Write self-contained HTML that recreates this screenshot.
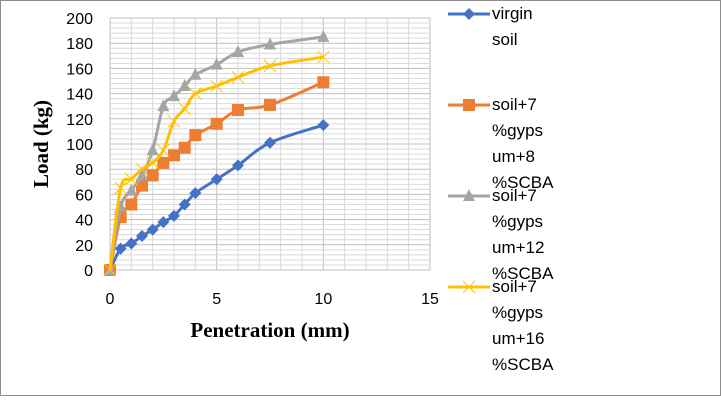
<!DOCTYPE html>
<html><head><meta charset="utf-8"><style>
body{margin:0;background:#fff;}
svg{display:block;font-family:"Liberation Sans",sans-serif;}
</style></head><body>
<svg id="c" width="721" height="404">
<rect x="0.5" y="0.5" width="720" height="395" fill="#fff" stroke="#8c8c8c"/>
<g id="grid"></g><g id="axes"></g><g id="series"></g><g id="legend"></g>
<text x="270" y="337" text-anchor="middle" font-family="Liberation Serif,serif" font-weight="bold" font-size="21">Penetration (mm)</text>
<text transform="translate(48,144) rotate(-90)" text-anchor="middle" font-family="Liberation Serif,serif" font-weight="bold" font-size="21">Load (kg)</text>
</svg>
<script>
const xs=[0,0.5,1,1.5,2,2.5,3,3.5,4,5,6,7.5,10];
const virgin=[0,17,21,27,32,38,43,52,61,72,83,101,115];
const gyp8=[0,42,52,67,75,85,91,97,107,116,127,131,149];
const gyp12=[0,50,63,75,95,130,138,146,155,163,173,179,185];
const gyp16=[0,65,72,80,85,95,118,128,140,146,153,162,169];
const xTicks=[0,5,10,15];
const yTicks=[0,20,40,60,80,100,120,140,160,180,200];
const legendLabels=[["virgin","soil"],["soil+7","%gyps","um+8","%SCBA"],["soil+7","%gyps","um+12","%SCBA"],["soil+7","%gyps","um+16","%SCBA"]];
const NS="http://www.w3.org/2000/svg";
const X0=110,X1=430,Y0=270,Y1=18;
const sx=v=>X0+(v/15)*(X1-X0), sy=v=>Y0-(v/200)*(Y0-Y1);
function mk(t,a,p){const e=document.createElementNS(NS,t);for(const k in a)e.setAttribute(k,a[k]);p.appendChild(e);return e;}
const grid=document.getElementById('grid'),axes=document.getElementById('axes'),ser=document.getElementById('series'),leg=document.getElementById('legend');
for(let v=0;v<=15;v++){const l=mk('line',{x1:sx(v),x2:sx(v),y1:Y1,y2:Y0,stroke:v%5==0?'#bfbfbf':'#d9d9d9','stroke-width':1},grid);

}
for(let v=0;v<=200;v+=4){const l=mk('line',{x1:X0,x2:X1,y1:sy(v),y2:sy(v),stroke:v%20==0?'#bfbfbf':'#d9d9d9','stroke-width':1},grid);

}
xTicks.forEach(v=>{const t=mk('text',{x:sx(v),y:304,'text-anchor':'middle','font-size':16,fill:'#000'},axes);t.textContent=v;

});
yTicks.forEach(v=>{const t=mk('text',{x:93,y:sy(v)+6,'text-anchor':'end','font-size':16,fill:'#000'},axes);t.textContent=v;

});
function marker(type,x,y,col,p){let e;
 if(type=='diamond')e=mk('polygon',{points:`${x},${y-6} ${x+6},${y} ${x},${y+6} ${x-6},${y}`,fill:col},p);
 else if(type=='square')e=mk('rect',{x:x-6,y:y-6,width:12,height:12,fill:col},p);
 else if(type=='tri')e=mk('polygon',{points:`${x},${y-7} ${x+6},${y+5} ${x-6},${y+5}`,fill:col},p);
 else e=mk('path',{d:`M${x-6},${y-6}L${x+6},${y+6}M${x+6},${y-6}L${x-6},${y+6}`,stroke:col,'stroke-width':1,fill:'none'},p);
 return e;}
function smooth(pts){let d=`M${pts[0][0]},${pts[0][1]}`;
 for(let i=0;i<pts.length-1;i++){const p0=pts[i-1]||pts[i],p1=pts[i],p2=pts[i+1],p3=pts[i+2]||p2;
  d+=`C${p1[0]+(p2[0]-p0[0])/6},${p1[1]+(p2[1]-p0[1])/6} ${p2[0]-(p3[0]-p1[0])/6},${p2[1]-(p3[1]-p1[1])/6} ${p2[0]},${p2[1]}`;}
 return d;}
const defs=[[virgin,'#4472c4','diamond','series-virgin-soil'],[gyp8,'#ed7d31','square','series-gypsum-8-scba'],[gyp12,'#a5a5a5','tri','series-gypsum-12-scba'],[gyp16,'#ffc000','x','series-gypsum-16-scba']];
defs.forEach(([arr,col,m,name],si)=>{const g=mk('g',{},ser);
 
 
 const pts=xs.map((x,i)=>[sx(x),sy(arr[i])]);
 const l=mk('path',{d:smooth(pts),stroke:col,'stroke-width':3,fill:'none'},g);
 
 
 pts.forEach(p=>{const e=marker(m,p[0],p[1],col,g);
 
 });});
const ly=[10,101,192,283];
legendLabels.forEach((lines,i)=>{const g=mk('g',{},leg);
 
 
 const [arr,col,m]=defs[i];
 mk('line',{x1:448,x2:490,y1:ly[i]+4,y2:ly[i]+4,stroke:col,'stroke-width':3},g);
 marker(m,469,ly[i]+4,col,g);
 lines.forEach((s,j)=>{const t=mk('text',{x:492,y:ly[i]+9+j*26,'font-size':17,fill:'#000'},g);t.textContent=s;});});
</script>
</body></html>
